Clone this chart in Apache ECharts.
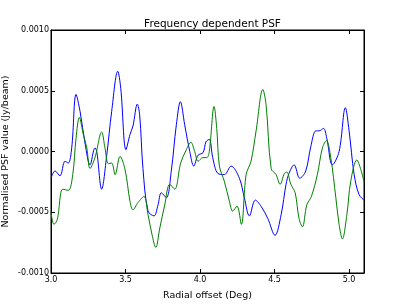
<!DOCTYPE html>
<html>
<head>
<meta charset="utf-8">
<script src="https://cdn.jsdelivr.net/npm/echarts@6/dist/echarts.min.js"></script>
<style>
html,body{margin:0;padding:0;background:#fff;}
#chart{width:404px;height:305px;}
</style>
</head>
<body>
<div id="chart"></div>
<script>
var titleText = "Frequency dependent PSF";
var xName = "Radial offset (Deg)";
var yName = "Normalised PSF value (Jy/beam)";
var xTicks = [3.0, 3.5, 4.0, 4.5, 5.0];
var yTicks = [-0.0010, -0.0005, 0.0000, 0.0005, 0.0010];

var blueX = [3.000,3.027,3.060,3.094,3.116,3.139,3.168,3.195,3.228,3.262,3.295,3.307,3.340,3.374,3.407,3.448,3.468,3.503,3.530,3.550,3.579,3.595,3.617,3.651,3.691,3.718,3.740,3.774,3.807,3.841,3.868,3.897,3.931,3.958,3.987,4.020,4.040,4.062,4.085,4.119,4.163,4.208,4.264,4.297,4.331,4.371,4.409,4.454,4.503,4.544,4.577,4.597,4.631,4.669,4.709,4.743,4.777,4.799,4.828,4.850,4.888,4.933,4.975,5.000,5.034,5.067,5.100];
var blueY = [-0.00022,-0.00016,-0.00020,-0.00008,-0.000095,0.00003,0.00047,0.00033,0.00007,-0.00011,0.00003,0.0,-0.00031,-0.00003,0.00033,0.00066,0.00052,0.000015,0.00014,0.00021,0.00039,0.00030,-0.00014,-0.00049,-0.00053,-0.00044,-0.00034,-0.00038,-0.00016,0.00022,0.00041,0.00022,0.0,-0.00012,-0.00003,-0.00001,0.00008,0.00010,-0.00005,-0.00018,-0.00019,-0.00012,-0.00022,-0.00038,-0.00053,-0.00040,-0.00045,-0.00055,-0.00069,-0.00052,-0.00027,-0.00018,-0.00011,-0.00022,-0.00016,0.00004,0.00017,0.00017,0.00019,0.00011,-0.00011,0.0,0.00036,0.00017,-0.00019,-0.000355,-0.00040];

var greenX = [3.000,3.020,3.042,3.079,3.116,3.146,3.168,3.190,3.217,3.240,3.262,3.295,3.340,3.362,3.385,3.407,3.430,3.463,3.497,3.530,3.550,3.584,3.624,3.651,3.678,3.703,3.730,3.763,3.797,3.830,3.870,3.908,3.938,3.964,3.987,4.020,4.045,4.062,4.094,4.112,4.130,4.163,4.197,4.219,4.248,4.277,4.309,4.342,4.376,4.421,4.443,4.477,4.510,4.537,4.566,4.582,4.609,4.638,4.664,4.687,4.716,4.747,4.787,4.821,4.848,4.877,4.911,4.933,4.955,4.985,5.011,5.052,5.079,5.100];
var greenY = [-0.00050,-0.00060,-0.00056,-0.00031,-0.00032,-0.00019,0.00011,0.00028,0.00014,0.00003,-0.00014,-0.00005,0.00016,0.00003,-0.00010,-0.000095,-0.00019,-0.00004,-0.00015,-0.00041,-0.00048,-0.00042,-0.00037,-0.00052,-0.000685,-0.00079,-0.00063,-0.00044,-0.00027,-0.00031,-0.000095,0.000015,0.000076,0.0,-0.00008,-0.00005,-0.00005,0.0,0.00037,0.00019,-0.00012,-0.000245,-0.00041,-0.00049,-0.00045,-0.00060,-0.00019,-0.00008,0.00017,0.00051,0.000385,-0.00014,-0.00019,-0.00027,-0.00018,-0.00017,-0.00027,-0.00034,-0.00055,-0.00062,-0.00044,-0.00037,-0.00019,0.00003,0.00009,-0.00005,-0.00038,-0.00060,-0.00072,-0.00052,-0.000245,-0.00007,-0.00015,-0.00025];

function pairs(xs, ys){ var o=[]; for(var i=0;i<xs.length;i++){ o.push([xs[i], ys[i]]); } return o; }

var FONT = 'DejaVu Sans';
var chart = echarts.init(document.getElementById('chart'), null, {renderer:'canvas'});
var tickStyle = {show:true, inside:true, length:4, lineStyle:{color:'#000', width:1}};
var xBase = {type:'value', min:3.0, max:5.1, interval:0.5, splitLine:{show:false},
  axisLine:{show:true, onZero:false, lineStyle:{color:'#000', width:1}}, axisTick:tickStyle};
var yBase = {type:'value', min:yTicks[0], max:yTicks[yTicks.length-1], interval:0.0005, splitLine:{show:false},
  axisLine:{show:true, onZero:false, lineStyle:{color:'#000', width:1}}, axisTick:tickStyle};

chart.setOption({
  backgroundColor:'#ffffff',
  animation:false,
  title:{text:titleText, left:207.5, top:14, textAlign:'center',
    textStyle:{fontFamily:FONT, fontSize:10.5, fontWeight:'normal', color:'#000'}},
  grid:{left:51, right:40, top:30, bottom:32, containLabel:false, outerBoundsMode:'none',
    show:true, borderColor:'#000', borderWidth:1, backgroundColor:'#fff'},
  xAxis:[
    Object.assign({}, xBase, {position:'bottom', name:xName, nameLocation:'middle', nameGap:18,
      nameMoveOverlap:false,
      nameTextStyle:{fontFamily:FONT, fontSize:9.5, color:'#000'},
      axisLabel:{show:true, margin:3, showMaxLabel:false, fontFamily:FONT, fontSize:8, color:'#000',
        formatter:function(v){ return xTicks.indexOf(Math.round(v*10)/10)>=0 ? v.toFixed(1) : ''; }}}),
    Object.assign({}, xBase, {position:'top', axisLabel:{show:false}})
  ],
  yAxis:[
    Object.assign({}, yBase, {position:'left', name:yName, nameLocation:'middle', nameGap:40,
      nameMoveOverlap:false,
      nameTextStyle:{fontFamily:FONT, fontSize:9.5, color:'#000'},
      axisLabel:{show:true, margin:2, fontFamily:FONT, fontSize:8, color:'#000',
        formatter:function(v){ return v.toFixed(4); }}}),
    Object.assign({}, yBase, {position:'right', axisLabel:{show:false}})
  ],
  series:[
    {type:'line', name:'blue', data:pairs(blueX, blueY), showSymbol:false, smooth:0.35,
      lineStyle:{color:'#0000ff', width:1}, itemStyle:{color:'#0000ff'}, clip:true},
    {type:'line', name:'green', data:pairs(greenX, greenY), showSymbol:false, smooth:0.35,
      lineStyle:{color:'#008000', width:1}, itemStyle:{color:'#008000'}, clip:true}
  ]
});
</script>
</body>
</html>
